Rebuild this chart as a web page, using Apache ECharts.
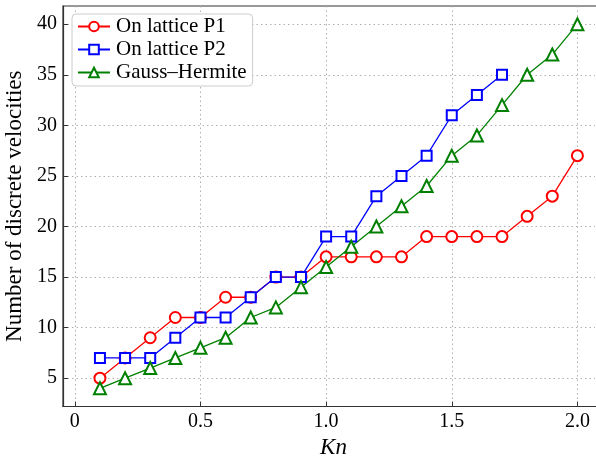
<!DOCTYPE html>
<html>
<head>
<meta charset="utf-8">
<script src="https://cdn.jsdelivr.net/npm/echarts@6/dist/echarts.min.js"></script>
<style>
  html, body { margin: 0; padding: 0; background: #fff; }
  #main { width: 596px; height: 459px; }
</style>
</head>
<body>
<div id="main"></div>
<script>
// Kn values
var knP1 = [0.1, 0.2, 0.3, 0.4, 0.5, 0.6, 0.7, 0.8, 0.9, 1.0, 1.1, 1.2, 1.3, 1.4, 1.5, 1.6, 1.7, 1.8, 1.9, 2.0];
var knP2 = [0.1, 0.2, 0.3, 0.4, 0.5, 0.6, 0.7, 0.8, 0.9, 1.0, 1.1, 1.2, 1.3, 1.4, 1.5, 1.6, 1.7];
var knGH = [0.1, 0.2, 0.3, 0.4, 0.5, 0.6, 0.7, 0.8, 0.9, 1.0, 1.1, 1.2, 1.3, 1.4, 1.5, 1.6, 1.7, 1.8, 1.9, 2.0];
// number of discrete velocities
var velP1 = [5, 7, 9, 11, 11, 13, 13, 15, 15, 17, 17, 17, 17, 19, 19, 19, 19, 21, 23, 27];
var velP2 = [7, 7, 7, 9, 11, 11, 13, 15, 15, 19, 19, 23, 25, 27, 31, 33, 35];
var velGH = [4, 5, 6, 7, 8, 9, 11, 12, 14, 16, 18, 20, 22, 24, 27, 29, 32, 35, 37, 40];
// tick labels
var xTicks = [0, 0.5, 1.0, 1.5, 2.0];
var yTicks = [5, 10, 15, 20, 25, 30, 35, 40];

var names = ['On lattice P1', 'On lattice P2', 'Gauss\u2013Hermite'];

function pairs(xs, ys) {
    var out = [];
    for (var i = 0; i < xs.length; i++) out.push([xs[i], ys[i]]);
    return out;
}

function mkSeries(name, xs, ys, color, symbol, size) {
    return {
        name: name,
        type: 'line',
        data: pairs(xs, ys),
        symbol: symbol,
        symbolSize: size,
        showAllSymbol: true,
        lineStyle: { color: color, width: 1.3 },
        itemStyle: { color: color, borderColor: color, borderWidth: 1.3 },
        emphasis: { disabled: true },
        animation: false
    };
}

var serif = 'Liberation Serif';

var myChart = echarts.init(document.getElementById('main'));
var option = {
    backgroundColor: '#fff',
    animation: false,
    textStyle: { fontFamily: serif },
    grid: { left: 63, right: 1, top: 6, bottom: 52.5, containLabel: false, outerBoundsMode: 'none' },
    legend: {
        orient: 'vertical',
        left: 72,
        top: 14,
        padding: [2, 6, 3, 5],
        itemGap: 2,
        itemWidth: 32,
        itemHeight: 12,
        backgroundColor: '#fff',
        borderColor: '#cccccc',
        borderWidth: 1,
        borderRadius: 4,
        textStyle: { fontFamily: serif, fontSize: 21, color: '#000', padding: [0, 0, 0, 1] },
        data: names
    },
    xAxis: {
        type: 'value',
        min: -0.047,
        max: 2.07,
        name: 'Kn',
        nameLocation: 'middle',
        nameGap: 27,
        nameTextStyle: { fontFamily: serif, fontSize: 23, fontStyle: 'italic', color: '#000', padding: [0, 0, 0, 9] },
        axisLine: { show: true, onZero: false, lineStyle: { color: '#333', width: 1.2 } },
        axisTick: { show: true, inside: true, length: 5, customValues: xTicks, lineStyle: { color: '#333' } },
        axisLabel: {
            customValues: xTicks,
            fontFamily: serif, fontSize: 20, color: '#000', margin: 5,
            formatter: function (v) { return v === 0 ? '0' : v.toFixed(1); }
        },
        splitLine: { show: true, lineStyle: { color: '#b0b0b0', type: [1.5, 3], width: 1 } }
    },
    yAxis: {
        type: 'value',
        min: 2.2,
        max: 41.8,
        name: 'Number of discrete velocities',
        nameLocation: 'middle',
        nameGap: 31,
        nameTextStyle: { fontFamily: serif, fontSize: 23, color: '#000' },
        axisLine: { show: true, onZero: false, lineStyle: { color: '#333', width: 1.2 } },
        axisTick: { show: true, inside: true, length: 5, customValues: yTicks, lineStyle: { color: '#333' } },
        axisLabel: { customValues: yTicks, fontFamily: serif, fontSize: 20, color: '#000', margin: 6 },
        splitLine: { show: true, lineStyle: { color: '#b0b0b0', type: [1.5, 3], width: 1 } }
    },
    series: [
        mkSeries(names[0], knP1, velP1, '#ff0000', 'emptyCircle', 11),
        mkSeries(names[1], knP2, velP2, '#0000ff', 'emptyRect', 10),
        mkSeries(names[2], knGH, velGH, '#008000', 'emptyTriangle', 12)
    ],
    graphic: [{
        type: 'rect',
        shape: { x: 63, y: 6, width: 535, height: 400.5 },
        style: { fill: 'none', stroke: '#333', lineWidth: 1.2 },
        silent: true,
        z: 0
    }]
};
myChart.setOption(option);
</script>
</body>
</html>
